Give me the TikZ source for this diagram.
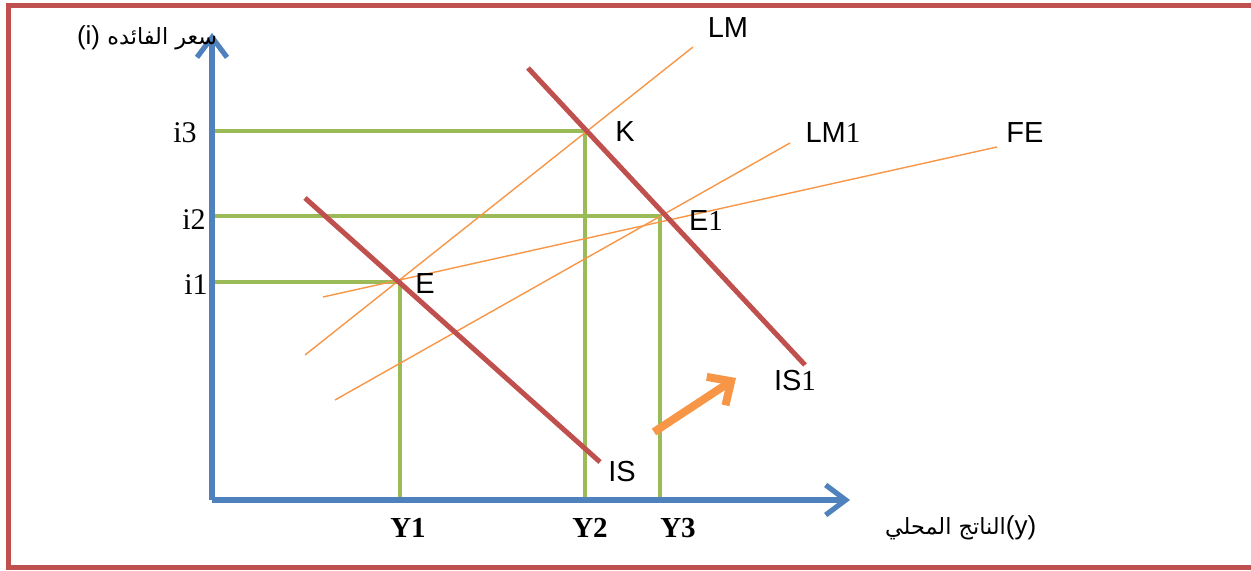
\documentclass[tikz,border=0pt]{standalone}
\usepackage{fontspec}
\setmainfont{Liberation Serif}
\newfontfamily\latinsans{Liberation Sans}
\newfontfamily\arabicfont[Script=Arabic,Scale=0.86]{DejaVu Sans}
\TeXXeTstate=1
\usetikzlibrary{arrows.meta}
\definecolor{framered}{HTML}{C0504D}
\definecolor{axisblue}{HTML}{4F81BD}
\definecolor{guidegreen}{HTML}{9BBB59}
\definecolor{curveorange}{HTML}{F79646}

\begin{document}
\begin{tikzpicture}[x=0.5pt,y=-0.5pt,
  axis/.style={axisblue,line width=2.6pt,-{Straight Barb[length=10pt,width=15pt]}},
  guide/.style={guidegreen,line width=2pt},
  iscurve/.style={framered,line width=2.5pt},
  lmcurve/.style={curveorange,line width=0.7pt},
  movearrow/.style={curveorange,line width=4pt,-{Straight Barb[length=9pt,width=17pt]}},
  lbl/.style={font=\latinsans\fontsize{14.5}{16}\selectfont},
  tick/.style={font=\fontsize{15}{17}\selectfont},
  ylab/.style={font=\bfseries\fontsize{14.5}{16}\selectfont},
  arlab/.style={anchor=west,font=\latinsans\fontsize{13}{15}\selectfont}]
\useasboundingbox (0,0) rectangle (1251,571);
% frame
\draw[framered,line width=2.5pt] (1262,6) -- (8,6) -- (8,567) -- (1262,567);
% points
\coordinate (O) at (212,500);
\coordinate (ytip) at (212,33);
\coordinate (xtip) at (850,500);
\coordinate (E) at (400,282);
\coordinate (K) at (585,131);
\coordinate (E1) at (660,216);
% green guides
\draw[guide] (E -| O) -- (E) -- (E |- O);
\draw[guide] (K -| O) -- (K) -- (K |- O);
\draw[guide] (E1 -| O) -- (E1) -- (E1 |- O);
% LM, LM1, FE
\coordinate (lm-a) at (305,355);
\coordinate (lm-b) at (693,47);
\coordinate (lm1-a) at (335,400);
\coordinate (lm1-b) at (790,143);
\coordinate (fe-a) at (323,297);
\coordinate (fe-b) at (997,147);
\draw[lmcurve] (lm-a) -- (lm-b);
\draw[lmcurve] (lm1-a) -- (lm1-b);
\draw[lmcurve] (fe-a) -- (fe-b);
% IS, IS1
\coordinate (is-a) at (305,198);
\coordinate (is-b) at (600,462);
\coordinate (is1-a) at (528,68);
\coordinate (is1-b) at (805,365);
\draw[iscurve] (is-a) -- (is-b);
\draw[iscurve] (is1-a) -- (is1-b);
% shift of IS
\coordinate (mv-a) at (654,432);
\coordinate (mv-b) at (736,378);
\draw[movearrow] (mv-a) -- (mv-b);
% axes
\draw[axis] (O) -- (ytip);
\draw[axis] (O) -- (xtip);
% labels
\node[lbl] (lmlab) at (728,28) {LM};
\node[lbl] (klab) at (625,132) {K};
\node[lbl] (lm1lab) at (833,133) {LM\rmfamily 1};
\node[lbl] (felab) at (1025,133) {FE};
\node[lbl] (e1lab) at (706,221) {E\rmfamily 1};
\node[lbl] (elab) at (425,284) {E};
\node[lbl] (is1lab) at (795,381) {IS\rmfamily 1};
\node[lbl] (islab) at (622,472) {IS};
\node[tick] (i3lab) at (185,133) {i3};
\node[tick] (i2lab) at (194,220) {i2};
\node[tick] (i1lab) at (196,285) {i1};
\node[ylab] (y1lab) at (408,528) {Y1};
\node[ylab] (y2lab) at (590,528) {Y2};
\node[ylab] (y3lab) at (678,528) {Y3};
\node[arlab] (ilab) at (70,38) {\hbox{(i)} {\arabicfont\beginR سعر الفائده\endR}};
\node[arlab] (ylab) at (878,528) {{\arabicfont\beginR الناتج المحلي\endR}\hbox{(y)}};
\end{tikzpicture}
\end{document}
